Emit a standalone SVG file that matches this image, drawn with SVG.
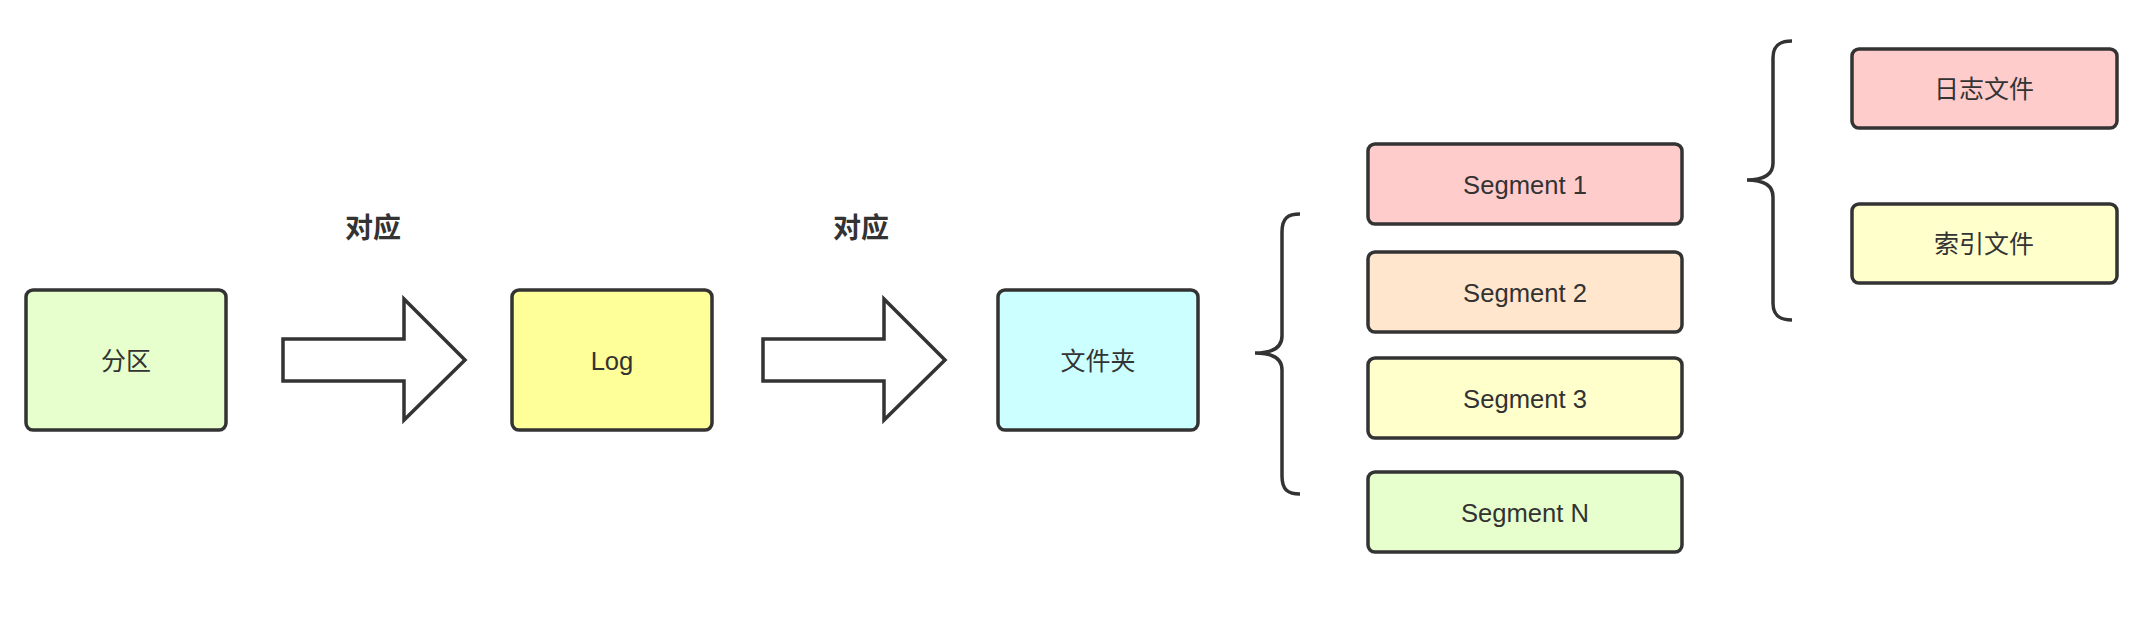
<svg xmlns="http://www.w3.org/2000/svg" width="2148" height="638" viewBox="0 0 2148 638">
<style>
.box{stroke:#333333;stroke-width:3.5;}
.t{font-family:"Liberation Sans","Noto Sans CJK SC",sans-serif;font-size:25px;fill:#333333;text-anchor:middle;dominant-baseline:central;}
.tl{font-size:25.6px;}
.lbl{font-family:"Liberation Sans","Noto Sans CJK SC",sans-serif;font-size:28px;font-weight:bold;fill:#333333;text-anchor:middle;dominant-baseline:central;}
.arr{fill:#ffffff;stroke:#333333;stroke-width:3.5;stroke-linejoin:miter;}
.brace{fill:none;stroke:#333333;stroke-width:3.5;}
</style>
<rect width="2148" height="638" fill="#ffffff"/>
<g id="connectors">
<polygon class="arr" points="283,339 404,339 404,299 465,360 404,420 404,381 283,381"/>
<polygon class="arr" points="763,339 884,339 884,299 945,360 884,420 884,381 763,381"/>
<path class="brace" d="M1300,214 C1288,214 1282,218 1282,232 L1282,336 C1282,348 1272,353 1255,353 C1272,353 1282,358 1282,370 L1282,476 C1282,490 1288,494 1300,494"/>
<path class="brace" d="M1792,41 C1780,41 1773,45 1773,58 L1773,163 C1773,175 1764,180 1747,180 C1764,180 1773,185 1773,197 L1773,303 C1773,316 1780,320 1792,320"/>
</g>
<g id="label-1"><text class="lbl" x="373" y="228">对应</text></g>
<g id="label-2"><text class="lbl" x="861" y="228">对应</text></g>
<g id="node-fenqu"><rect class="box" x="26" y="290" width="200" height="140" rx="7" fill="#E6FFCC"/><text class="t" x="126" y="361">分区</text></g>
<g id="node-log"><rect class="box" x="512" y="290" width="200" height="140" rx="7" fill="#FFFF99"/><text class="t tl" x="612" y="361">Log</text></g>
<g id="node-folder"><rect class="box" x="998" y="290" width="200" height="140" rx="7" fill="#CCFFFF"/><text class="t" x="1098" y="361">文件夹</text></g>
<g id="node-seg1"><rect class="box" x="1368" y="144" width="314" height="80" rx="7" fill="#FFCCCC"/><text class="t tl" x="1525" y="185">Segment 1</text></g>
<g id="node-seg2"><rect class="box" x="1368" y="252" width="314" height="80" rx="7" fill="#FFE6CC"/><text class="t tl" x="1525" y="293">Segment 2</text></g>
<g id="node-seg3"><rect class="box" x="1368" y="358" width="314" height="80" rx="7" fill="#FFFFCC"/><text class="t tl" x="1525" y="399">Segment 3</text></g>
<g id="node-segN"><rect class="box" x="1368" y="472" width="314" height="80" rx="7" fill="#E6FFCC"/><text class="t tl" x="1525" y="513">Segment N</text></g>
<g id="node-logfile"><rect class="box" x="1852" y="49" width="265" height="79" rx="7" fill="#FFCCCC"/><text class="t" x="1984" y="89">日志文件</text></g>
<g id="node-indexfile"><rect class="box" x="1852" y="204" width="265" height="79" rx="7" fill="#FFFFCC"/><text class="t" x="1984" y="244">索引文件</text></g>
</svg>
